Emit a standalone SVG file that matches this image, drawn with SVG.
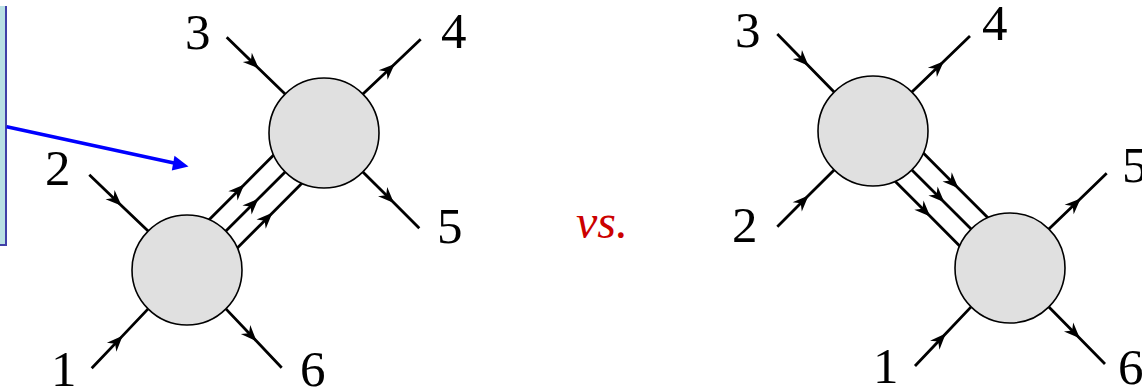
<svg xmlns="http://www.w3.org/2000/svg" width="1142" height="389" viewBox="0 0 1142 389">
<style>
.ln{fill:none;stroke:#000;stroke-width:2.8;marker-mid:url(#ah)}
.bl{fill:#e0e0e0;stroke:#000;stroke-width:1.6}
</style>
<defs>
<marker id="ah" markerUnits="userSpaceOnUse" viewBox="-20 -10 24 20" markerWidth="24" markerHeight="20" refX="-4" refY="0" orient="auto">
<path d="M0,0 L-16,-6.5 L-11,0 L-16,6.5 Z" fill="#000"/>
</marker>
</defs>
<g id="callout">
<rect x="-10" y="6" width="16" height="239" fill="#b9e0e4"/>
<path d="M6,6 V245 H-10" fill="none" stroke="#4040a8" stroke-width="2"/>
</g>
<g id="connectors">
<line x1="6.7" y1="126.7" x2="174" y2="163" stroke="#0000ff" stroke-width="3.5"/>
<polygon points="188.5,166.5 174.5,155.7 171.8,170.5" fill="#0000ff"/>
<path class="ln" d="M226.7,37.3 L255.9,65.7 L285.1,94.1"/>
<path class="ln" d="M362.9,94.1 L391.8,66.7 L420.7,39.3"/>
<path class="ln" d="M362.9,171.9 L391.1,200.1 L419.3,228.3"/>
<path class="ln" d="M89.3,174.7 L118.7,202.9 L148.1,231.1"/>
<path class="ln" d="M91.7,368.3 L119.9,338.6 L148.1,308.9"/>
<path class="ln" d="M225.9,308.9 L253.8,338.3 L281.7,367.7"/>
<path class="ln" d="M209.1,219.7 L241.4,187.4 L273.7,155.1"/>
<path class="ln" d="M225.9,231.1 L255.5,201.5 L285.1,171.9"/>
<path class="ln" d="M237.3,248.1 L269.6,215.7 L301.9,183.3"/>
<path class="ln" d="M777.3,34 L805.7,63 L834.1,92.1"/>
<path class="ln" d="M911.9,92.1 L941,64 L970,36"/>
<path class="ln" d="M777.3,226.7 L805.7,198.3 L834.1,169.9"/>
<path class="ln" d="M923.3,153.1 L955.6,185.4 L987.9,217.7"/>
<path class="ln" d="M911.9,169.9 L941.5,199.5 L971.1,229.1"/>
<path class="ln" d="M895.1,181.3 L927.4,213.6 L959.7,245.9"/>
<path class="ln" d="M1048.9,229.1 L1077.8,201.2 L1106.7,173.3"/>
<path class="ln" d="M915,366 L943,336.5 L971.1,306.9"/>
<path class="ln" d="M1048.9,306.9 L1077,335.5 L1105,364"/>
</g>
<g id="left-blob-lower"><circle class="bl" cx="187" cy="270" r="55"/></g>
<g id="left-blob-upper"><circle class="bl" cx="324" cy="133" r="55"/></g>
<g id="right-blob-upper"><circle class="bl" cx="873" cy="131" r="55"/></g>
<g id="right-blob-lower"><circle class="bl" cx="1010" cy="268" r="55"/></g>
<g id="labels-left">
<text x="185" y="49" font-size="51" font-family="'Liberation Serif'">3</text>
<text x="441" y="48" font-size="51" font-family="'Liberation Serif'">4</text>
<text x="45" y="185" font-size="51" font-family="'Liberation Serif'">2</text>
<text x="437" y="243" font-size="51" font-family="'Liberation Serif'">5</text>
<text x="51" y="386" font-size="51" font-family="'Liberation Serif'">1</text>
<text x="300" y="386" font-size="51" font-family="'Liberation Serif'">6</text>
</g>
<g id="vs"><text x="576" y="238" font-size="48" font-style="italic" fill="#cc0000" font-family="'Liberation Serif'">vs.</text></g>
<g id="labels-right">
<text x="735" y="46.7" font-size="51" font-family="'Liberation Serif'">3</text>
<text x="982" y="40" font-size="51" font-family="'Liberation Serif'">4</text>
<text x="732" y="241.7" font-size="51" font-family="'Liberation Serif'">2</text>
<text x="1122" y="181.7" font-size="51" font-family="'Liberation Serif'">5</text>
<text x="873" y="383" font-size="51" font-family="'Liberation Serif'">1</text>
<text x="1118" y="384" font-size="51" font-family="'Liberation Serif'">6</text>
</g>
</svg>
